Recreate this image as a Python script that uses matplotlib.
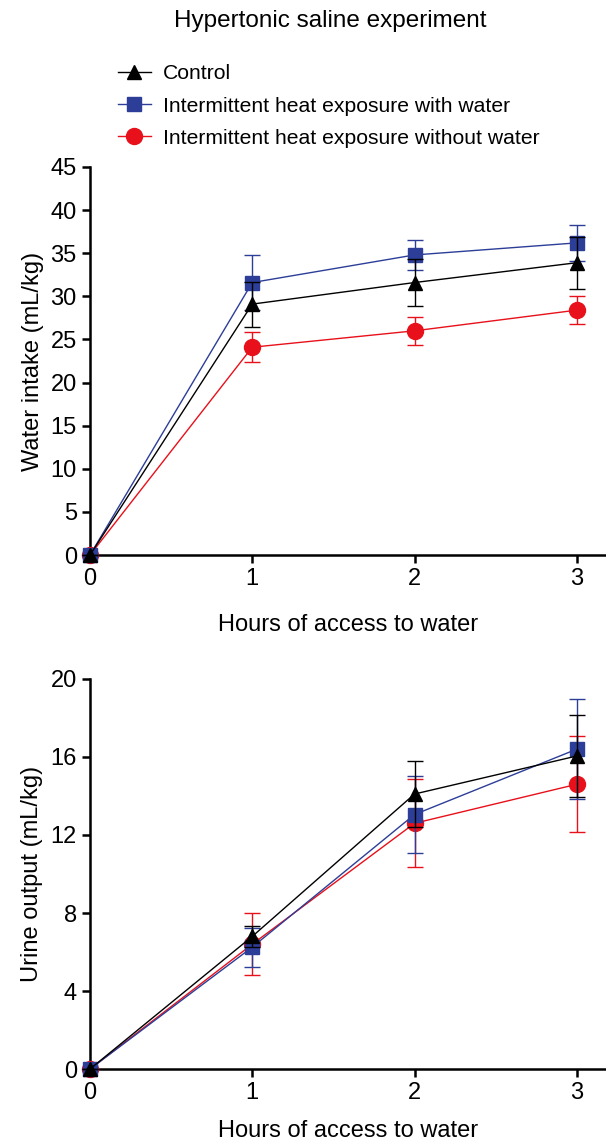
import numpy as np
import matplotlib.pyplot as plt
from matplotlib.lines import Line2D

plt.rcParams["font.family"] = ["Liberation Sans", "DejaVu Sans"]
plt.rcParams["font.size"] = 17

hours = [0, 1, 2, 3]
groups = ["Control",
          "Intermittent heat exposure with water",
          "Intermittent heat exposure without water"]

# water intake (mL/kg), mean and error
water_control = [0, 29.1, 31.6, 33.9]
water_control_err = [0, 2.6, 2.7, 3.0]
water_with = [0, 31.6, 34.8, 36.2]
water_with_err = [0, 3.2, 1.7, 2.1]
water_without = [0, 24.1, 26.0, 28.4]
water_without_err = [0, 1.75, 1.65, 1.65]

# urine output (mL/kg), mean and error
urine_control = [0, 6.8, 14.1, 16.05]
urine_control_err = [0, 0.55, 1.7, 2.1]
urine_with = [0, 6.25, 13.05, 16.4]
urine_with_err = [0, 1.0, 1.95, 2.55]
urine_without = [0, 6.4, 12.6, 14.6]
urine_without_err = [0, 1.6, 2.25, 2.45]

colors = ["black", "#2c3e98", "#e8101a"]
markers = ["^", "s", "o"]
sizes = [10, 10.5, 11.5]


def draw_panel(ax, series, errs, ylim, yticks, ylabel, pad):
    # red, blue, then black on top
    for i in [2, 1, 0]:
        ax.errorbar(hours, series[i], yerr=errs[i], color=colors[i],
                    marker=markers[i], markersize=sizes[i], lw=1.0,
                    elinewidth=1.0, capsize=6, capthick=1.0, clip_on=False,
                    zorder=3 + (2 - i))
    for s in ["top", "right"]:
        ax.spines[s].set_visible(False)
    for s in ["left", "bottom"]:
        ax.spines[s].set_linewidth(1.8)
    ax.tick_params(width=1.8, length=6, labelsize=17)
    ax.set_xlim(0, 3.18)
    ax.set_ylim(*ylim)
    ax.set_xticks(hours)
    ax.set_yticks(yticks)
    ax.set_xlabel("Hours of access to water", fontsize=17, labelpad=pad)
    ax.set_ylabel(ylabel, fontsize=17, labelpad=5)


fig = plt.figure(figsize=(6.06, 11.43), dpi=100)
ax1 = fig.add_axes([0.1485, 0.5144, 0.8515, 0.3395])
ax2 = fig.add_axes([0.1485, 0.0647, 0.8515, 0.3413])

draw_panel(ax1, [water_control, water_with, water_without],
           [water_control_err, water_with_err, water_without_err],
           (0, 45), np.arange(0, 46, 5), "Water intake (mL/kg)", 17)
draw_panel(ax2, [urine_control, urine_with, urine_without],
           [urine_control_err, urine_with_err, urine_without_err],
           (0, 20), np.arange(0, 21, 4), "Urine output (mL/kg)", 11)

fig.text(0.545, 0.982, "Hypertonic saline experiment", ha="center",
         va="center", fontsize=17.5)

handles = [Line2D([], [], color=colors[i], marker=markers[i],
                  markersize=sizes[i], lw=1.0) for i in range(3)]
fig.legend(handles, groups, loc="upper left", bbox_to_anchor=(0.18, 0.951),
           frameon=False, fontsize=15.2, handlelength=1.6, handletextpad=0.55,
           labelspacing=0.62, borderaxespad=0)

fig.savefig("out.png", dpi=100)
